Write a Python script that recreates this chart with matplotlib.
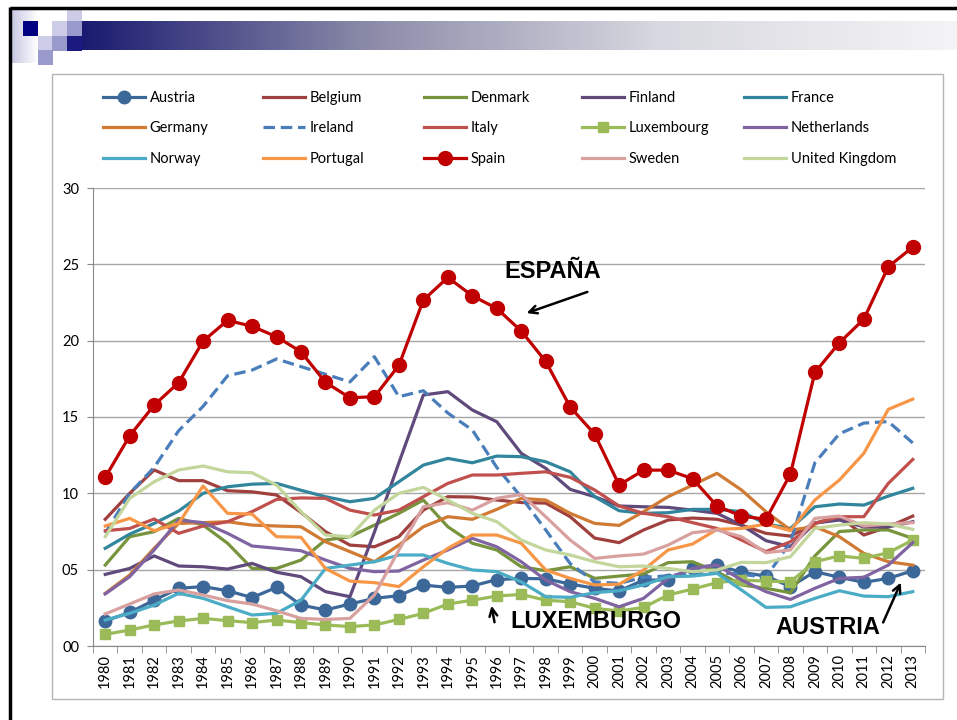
import numpy as np
import matplotlib.pyplot as plt
from matplotlib.colors import LinearSegmentedColormap
from matplotlib.patches import Rectangle

plt.rcParams['font.family'] = ['Lato', 'DejaVu Sans']

years = [str(y) for y in range(1980, 2014)]

austria = [1.64, 2.2, 3.0, 3.78, 3.89, 3.62, 3.17, 3.84, 2.68, 2.36, 2.75, 3.12, 3.3, 3.99, 3.84, 3.93, 4.35,
           4.43, 4.4, 4.06, 3.78, 3.6, 4.32, 4.32, 5.13, 5.3, 4.83, 4.58, 3.89, 4.87, 4.5, 4.17, 4.43, 4.93]
belgium = [8.3, 10.0, 11.53, 10.83, 10.83, 10.17, 10.1, 9.89, 8.75, 7.49, 6.61, 6.5, 7.16, 8.9, 9.78, 9.76, 9.56,
           9.4, 9.36, 8.47, 7.07, 6.77, 7.6, 8.25, 8.38, 8.3, 7.92, 7.38, 7.2, 8.05, 8.47, 7.27, 7.8, 8.51]
denmark = [5.3, 7.16, 7.49, 8.36, 7.92, 6.73, 5.08, 5.08, 5.63, 6.94, 7.16, 7.92, 8.69, 9.56, 7.81, 6.73, 6.29,
           5.19, 4.93, 5.19, 4.43, 4.58, 4.72, 5.46, 5.52, 4.87, 4.0, 3.78, 3.49, 5.9, 7.5, 7.6, 7.6, 7.05]
finland = [4.69, 5.08, 5.9, 5.24, 5.19, 5.04, 5.41, 4.83, 4.54, 3.56, 3.23, 7.46, 12.0, 16.44, 16.66, 15.46, 14.69,
           12.62, 11.64, 10.26, 9.78, 9.17, 9.12, 9.08, 8.9, 8.69, 7.92, 6.9, 6.5, 8.05, 8.25, 7.8, 7.8, 8.14]
france = [6.4, 7.33, 8.03, 8.84, 10.0, 10.43, 10.6, 10.65, 10.2, 9.78, 9.45, 9.67, 10.76, 11.85, 12.29, 12.0, 12.44,
          12.4, 12.07, 11.41, 9.78, 8.86, 8.69, 8.73, 8.95, 8.95, 8.8, 8.0, 7.7, 9.12, 9.3, 9.23, 9.82, 10.33]
germany = [3.45, 4.65, 6.4, 8.03, 8.08, 8.14, 7.92, 7.86, 7.81, 6.83, 6.18, 5.52, 6.61, 7.81, 8.47, 8.3, 8.95,
           9.67, 9.56, 8.69, 8.03, 7.9, 8.8, 9.78, 10.54, 11.31, 10.22, 8.8, 7.6, 7.81, 7.16, 6.07, 5.52, 5.3]
ireland = [7.4, 10.0, 11.7, 14.1, 15.7, 17.7, 18.07, 18.8, 18.3, 17.8, 17.3, 18.95, 16.33, 16.72, 15.26, 14.15, 11.7,
           9.76, 7.6, 5.4, 4.2, 4.1, 4.5, 4.6, 4.8, 4.8, 4.7, 4.5, 6.8, 12.0, 13.9, 14.6, 14.7, 13.3]
italy = [7.55, 7.7, 8.32, 7.38, 7.86, 8.14, 8.8, 9.6, 9.7, 9.67, 8.9, 8.58, 8.9, 9.78, 10.65, 11.2, 11.2,
         11.31, 11.41, 11.05, 10.22, 9.17, 8.69, 8.47, 8.08, 7.7, 6.94, 6.18, 6.83, 8.03, 8.47, 8.47, 10.65, 12.22]
luxembourg = [0.76, 1.05, 1.38, 1.64, 1.81, 1.66, 1.53, 1.7, 1.53, 1.38, 1.27, 1.38, 1.74, 2.14, 2.75, 3.0, 3.27,
              3.38, 3.0, 2.9, 2.47, 2.29, 2.53, 3.34, 3.73, 4.15, 4.32, 4.25, 4.2, 5.52, 5.9, 5.74, 6.11, 6.94]
netherlands = [3.41, 4.54, 6.29, 8.25, 8.08, 7.38, 6.55, 6.4, 6.24, 5.63, 5.08, 4.87, 4.91, 5.63, 6.29, 7.05, 6.5,
               5.52, 4.32, 3.56, 3.12, 2.57, 3.12, 4.43, 5.08, 5.3, 4.32, 3.56, 3.05, 3.78, 4.43, 4.5, 5.3, 6.77]
norway = [1.7, 2.14, 2.68, 3.45, 3.12, 2.57, 2.03, 2.14, 3.0, 5.08, 5.3, 5.52, 5.96, 5.96, 5.41, 4.98, 4.87,
          4.2, 3.23, 3.19, 3.49, 3.62, 4.0, 4.54, 4.58, 4.76, 3.67, 2.53, 2.57, 3.12, 3.62, 3.27, 3.23, 3.56]
portugal = [7.86, 8.36, 7.55, 8.03, 10.48, 8.69, 8.64, 7.16, 7.12, 5.08, 4.25, 4.15, 3.89, 5.19, 6.4, 7.27, 7.27,
            6.73, 4.98, 4.43, 4.0, 4.04, 4.98, 6.29, 6.68, 7.64, 7.7, 7.99, 7.55, 9.56, 10.87, 12.62, 15.5, 16.17]
spain = [11.05, 13.77, 15.78, 17.25, 19.97, 21.33, 20.94, 20.26, 19.27, 17.27, 16.26, 16.33, 18.38, 22.66, 24.14,
         22.94, 22.11, 20.63, 18.64, 15.65, 13.88, 10.54, 11.52, 11.52, 10.96, 9.17, 8.51, 8.3, 11.26, 17.92,
         19.86, 21.41, 24.84, 26.13]
sweden = [2.1, 2.75, 3.41, 3.67, 3.34, 2.97, 2.75, 2.31, 1.81, 1.74, 1.81, 3.34, 6.29, 9.12, 9.39, 8.9, 9.67,
          9.93, 8.47, 6.94, 5.74, 5.9, 6.02, 6.61, 7.42, 7.6, 7.16, 6.11, 6.29, 8.36, 8.51, 7.86, 7.99, 8.08]
uk = [7.16, 9.67, 10.76, 11.53, 11.79, 11.41, 11.35, 10.54, 8.8, 7.27, 7.16, 8.9, 10.0, 10.39, 9.56, 8.69, 8.14,
      6.94, 6.29, 5.96, 5.52, 5.19, 5.24, 5.08, 4.87, 4.98, 5.48, 5.46, 5.85, 7.7, 7.92, 8.08, 7.99, 7.64]

series = [
    ('Austria', austria, '#3C6899', dict(marker='o', markersize=9)),
    ('Belgium', belgium, '#A0403E', {}),
    ('Denmark', denmark, '#77933C', {}),
    ('Finland', finland, '#604A7B', {}),
    ('France', france, '#31859C', {}),
    ('Germany', germany, '#D07A33', {}),
    ('Ireland', ireland, '#4A7EBB', dict(linestyle=(0, (3.6, 1.8)))),
    ('Italy', italy, '#C0504D', {}),
    ('Luxembourg', luxembourg, '#9BBB59', dict(marker='s', markersize=7)),
    ('Netherlands', netherlands, '#8064A2', {}),
    ('Norway', norway, '#4BACC6', {}),
    ('Portugal', portugal, '#F79646', {}),
    ('Spain', spain, '#C00000', dict(marker='o', markersize=10)),
    ('Sweden', sweden, '#D9A0A0', {}),
    ('United Kingdom', uk, '#C3D69B', {}),
]

W, H = 957, 720
fig = plt.figure(figsize=(W / 100, H / 100), dpi=100)

# slide decoration, drawn in pixel coordinates
bg = fig.add_axes([0, 0, 1, 1], zorder=0)
bar_cmap = LinearSegmentedColormap.from_list('bar', ['#15156e', '#8a8aa8', '#d8d8e0', '#f4f4f6'])
bg.imshow(np.linspace(0, 1, 400)[None, :], extent=[67, 957, 50, 21], aspect='auto', cmap=bar_cmap)
side_cmap = LinearSegmentedColormap.from_list('side', ['#c8c8e4', '#ffffff'])
bg.imshow(np.linspace(0, 1, 50)[None, :], extent=[12, 38, 63, 10], aspect='auto', cmap=side_cmap)
squares = [(67, 10, '#ccccE6'), (23, 21, '#000080'), (52, 21, '#ccccE6'), (67, 21, '#9999cc'),
           (38, 36, '#ccccE6'), (52, 36, '#9999cc'), (38, 50, '#9999cc'), (67, 36, '#1a1a80')]
for sx, sy, sc in squares:
    bg.add_patch(Rectangle((sx, sy), 15, 15, color=sc, lw=0))
bg.plot([10, 957], [8, 8], color='black', lw=2.5, solid_capstyle='butt')
bg.plot([10, 10], [7, 720], color='black', lw=2.5, solid_capstyle='butt')
bg.add_patch(Rectangle((52, 74), 891, 625, fill=False, edgecolor='#b5b5b5', lw=1))
bg.set_xlim(0, W)
bg.set_ylim(H, 0)
bg.axis('off')

ax = fig.add_axes([93 / W, 1 - 646 / H, (925 - 93) / W, (646 - 188) / H], zorder=1)
ax.patch.set_alpha(0)
x = np.arange(len(years))
handles = []
for name, vals, col, kw in series:
    ln, = ax.plot(x, vals, color=col, lw=2.3, label=name, **kw)
    handles.append(ln)

ax.set_xlim(-0.5, len(years) - 0.5)
ax.set_ylim(0, 30)
ax.set_yticks(range(0, 31, 5))
ax.set_yticklabels([f'{v:02d}' for v in range(0, 31, 5)], fontsize=10.5)
ax.set_xticks(x)
ax.set_xticklabels(years, rotation=90, fontsize=10.5)
ax.set_xticks(np.arange(-0.5, len(years), 1), minor=True)
ax.tick_params(axis='x', which='major', length=0, pad=6)
ax.tick_params(axis='x', which='minor', length=5, color='#888888')
ax.tick_params(axis='y', length=4, color='#888888', pad=6)
ax.grid(axis='y', color='#a6a6a6', lw=1)
ax.set_axisbelow(True)
for s in ['top', 'right']:
    ax.spines[s].set_visible(False)
for s in ['left', 'bottom']:
    ax.spines[s].set_color('#888888')

# legend: 5 columns x 3 rows, filled row-wise
col_x = [103, 263, 424, 582, 744]
for c in range(5):
    hs = [handles[r * 5 + c] for r in range(3)]
    fig.legend(hs, [h.get_label() for h in hs], loc='upper left',
               bbox_to_anchor=(col_x[c] / W, 1 - 91 / H), frameon=False, fontsize=10.5,
               handlelength=2.9, handletextpad=0.3, labelspacing=1.13,
               borderpad=0, borderaxespad=0)

ann = dict(fontsize=17, fontweight='bold', family='Liberation Sans', color='black')
arrow = dict(arrowstyle='->', color='black', lw=1.8, mutation_scale=14)
fig.text(553 / W, 1 - 272 / H, 'ESPAÑA', ha='center', va='center', **ann)
fig.text(510 / W, 1 - 622 / H, 'LUXEMBURGO', ha='left', va='center', **ann)
fig.text(775 / W, 1 - 627 / H, 'AUSTRIA', ha='left', va='center', **ann)
for (x0, y0), (x1, y1) in [((590, 291), (524, 314)), ((495, 625), (491, 603)), ((882, 625), (902, 580))]:
    fig.add_artist(plt.Annotation('', xy=(x1 / W, 1 - y1 / H), xytext=(x0 / W, 1 - y0 / H),
                                  xycoords='figure fraction', textcoords='figure fraction',
                                  arrowprops=arrow))

plt.savefig('out.png', dpi=100)
